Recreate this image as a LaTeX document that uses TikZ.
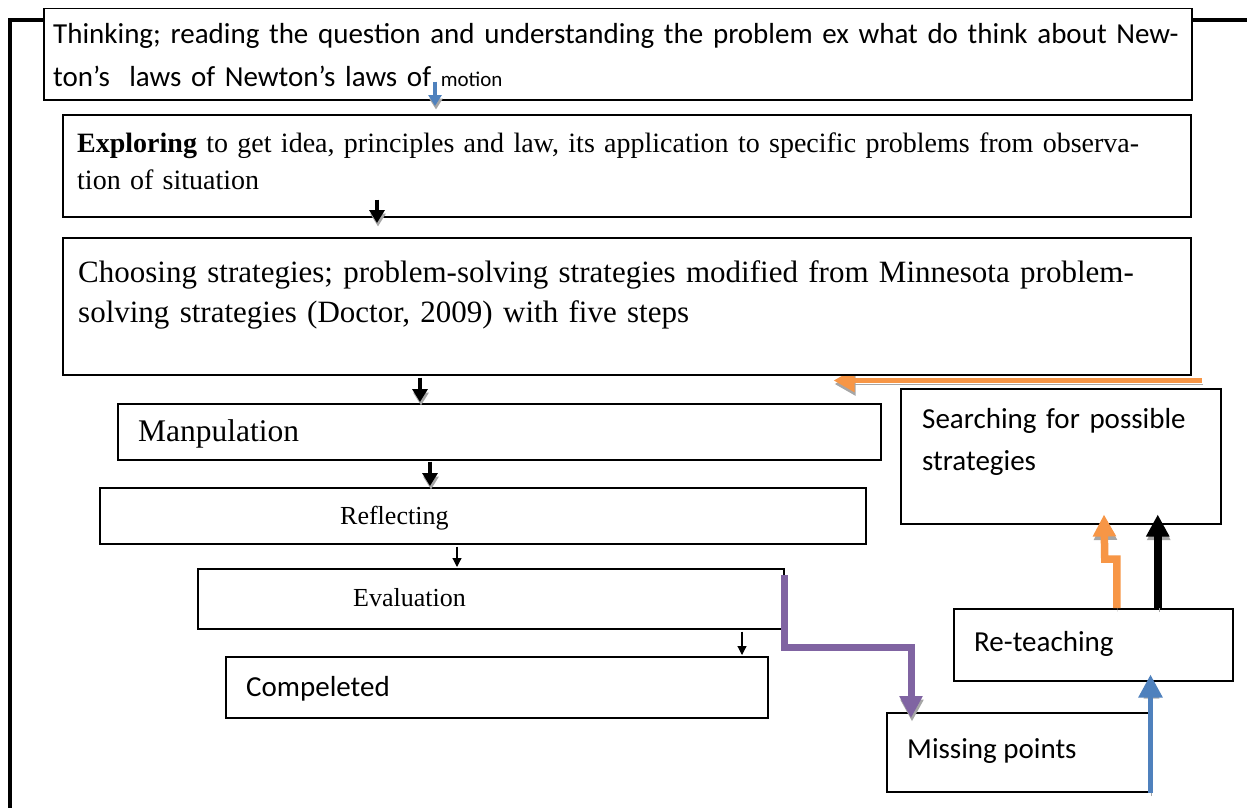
\documentclass[tikz,border=0pt]{standalone}
\usepackage{fontspec}
\setmainfont{Liberation Serif}
\newfontfamily\calib{Carlito}
\usetikzlibrary{arrows.meta,calc}
\definecolor{arrblue}{RGB}{79,129,189}
\definecolor{arrorange}{RGB}{247,150,70}
\definecolor{arrpurple}{RGB}{128,100,162}
\definecolor{arrshade}{RGB}{166,166,166}

\begin{document}
\begin{tikzpicture}[x=1pt,y=-1pt,
  box/.style={draw=black, line width=1.5pt, fill=white, anchor=north west,
              inner sep=0pt, rectangle},
  txt/.style={anchor=base west, inner sep=0pt, align=left},
  calsize/.style={font=\calib\fontsize{29}{42}\selectfont},
  dropshade/.style={preaction={draw=arrshade, transform canvas={shift={(1pt,-3.5pt)}}}},
  smallarrow/.style={line width=4pt, dropshade,
              -{Triangle[width=15pt,length=13pt]}},
  thinarrow/.style={draw=black, line width=1.2pt,
              -{Triangle[width=9pt,length=9pt]}},
  fatarrow/.style={line width=7.5pt, dropshade,
              -{Triangle[width=22pt,length=22pt]}},
  frameline/.style={draw=black, line width=3.5pt},
]
\useasboundingbox (0,0) rectangle (1247,808);
\fill[white] (0,0) rectangle (1247,808);

% outer frame running behind the first box
\coordinate (frameBL) at (10,808);
\coordinate (frameTL) at (10,20);
\coordinate (frameTR) at (1247,20);
\draw[frameline] (frameBL) -- (frameTL) -- (frameTR);

% lanes for the connectors
\coordinate (laneA) at (435,0);
\coordinate (laneB) at (377,0);
\coordinate (laneC) at (420,0);
\coordinate (laneD) at (430,0);
\coordinate (laneE) at (457,0);
\coordinate (laneF) at (742,0);
\coordinate (bendP) at (911,647);
\coordinate (laneO) at (1104,0);

% feedback from the search box back to the strategy box (drawn first, box covers its top)
\node[box, minimum width=1128pt, minimum height=137pt, draw=none, fill=none] (t3) at (62,237) {};
\draw[fatarrow, draw=arrorange, line width=5.5pt, -{Triangle[width=22pt,length=21pt]}]
  ($(t3.south east)+(10,5)$) -- ($(t3.south east)+(-358,5)$);

% boxes
\node[box, minimum width=1148pt, minimum height=91pt]  (t1)   at (43,8)    {};
\node[box, minimum width=1128pt, minimum height=102pt] (t2)   at (62,114)  {};
\node[box, minimum width=1128pt, minimum height=137pt] (t3b)  at (62,237)  {};
\node[box, minimum width=763pt,  minimum height=56pt]  (man)  at (117,403) {};
\node[box, minimum width=766pt,  minimum height=56pt]  (refl) at (99,487)  {};
\node[box, minimum width=586pt,  minimum height=60pt]  (eval) at (197,568) {};
\node[box, minimum width=542pt,  minimum height=61pt]  (comp) at (225,656) {};
\node[box, minimum width=320pt,  minimum height=135pt] (srch) at (900,388) {};
\node[box, minimum width=279pt,  minimum height=72pt]  (rt)   at (953,608) {};
\node[box, minimum width=262pt,  minimum height=79pt]  (miss) at (886,712) {};

% texts
\node[txt, text width=1120pt, font=\calib\fontsize{29}{43}\selectfont] (t1text)
  at ($(t1.north west)+(10,36)$)
  {\makebox[1100pt][s]{Thinking; reading the question and understanding the problem ex what do think about New-}\\
   ton’s~ laws of Newton’s laws of {\fontsize{21}{21}\selectfont motion}};
\node[txt, text width=1100pt, font=\fontsize{28}{37}\selectfont] (t2text)
  at ($(t2.north west)+(15,38)$)
  {\makebox[1068pt][s]{\textbf{Exploring} to get idea, principles and law, its application to specific problems from observa-}\\
   tion of situation};
\node[txt, text width=1100pt, font=\fontsize{31}{40}\selectfont] (t3text)
  at ($(t3b.north west)+(16,45)$)
  {\makebox[1074pt][s]{Choosing strategies; problem-solving strategies modified from Minnesota problem-}\\
   solving strategies (Doctor, 2009) with five steps};
\node[txt, font=\fontsize{31.5}{36}\selectfont] (mantext) at ($(man.north west)+(21,38)$) {Manpulation};
\node[txt, font=\fontsize{26}{32}\selectfont] (refltext) at ($(refl.north west)+(241,37)$) {Reflecting};
\node[txt, font=\fontsize{26}{32}\selectfont] (evaltext) at ($(eval.north west)+(156,38)$) {Evaluation};
\node[txt, calsize] (comptext) at ($(comp.north west)+(21,40)$) {Compeleted};
\node[txt, calsize, text width=300pt] (srchtext) at ($(srch.north west)+(22,40)$)
  {Searching for possible\\strategies};
\node[txt, calsize] (rttext) at ($(rt.north west)+(21,43)$) {Re-teaching};
\node[txt, calsize] (misstext) at ($(miss.north west)+(21,46)$) {Missing points};

% main downward flow
\draw[smallarrow, draw=arrblue, line width=3.5pt, -{Triangle[width=13pt,length=11pt]}]
  ($(t1.south -| laneA)+(0,-19)$) -- ($(t2.north -| laneA)+(0,-8)$);
\draw[smallarrow, draw=black] ($(t2.south -| laneB)+(0,-18)$) -- ($(t3b.north -| laneB)+(0,-14)$);
\draw[smallarrow, draw=black] ($(t3b.south -| laneC)+(0,2)$) -- ($(man.north -| laneC)+(0,-1)$);
\draw[smallarrow, draw=black] ($(man.south -| laneD)+(0,1)$) -- ($(refl.north -| laneD)+(0,-1)$);
\draw[thinarrow] ($(refl.south -| laneE)+(0,2)$) -- ($(eval.north -| laneE)+(0,-1)$);
\draw[thinarrow] ($(eval.south -| laneF)+(0,2)$) -- ($(comp.north -| laneF)+(0,-1)$);

% evaluation to missing points
\draw[fatarrow, draw=arrpurple, line width=7pt]
  ($(eval.north east)+(0,7)$) |- (bendP) -- ($(miss.north -| bendP)+(0,6)$);

% missing points to re-teaching
\draw[fatarrow, draw=arrblue, line width=5.5pt, -{Triangle[width=23pt,length=23pt]}]
  ($(miss.south east)+(1,0)$) -- ($(rt.south -| miss.east)+(1,-7)$);

% re-teaching to searching
\draw[fatarrow, draw=arrorange]
  ($(rt.north)+(23.5,0)$) -- ++(0,-49) -- ++(-12,0) -- ($(laneO |- srch.south)+(0,-10)$);
\draw[fatarrow, draw=black]
  ($(rt.north)+(64.5,0)$) -- ($(srch.south)+(97,-10)$);
\end{tikzpicture}
\end{document}
